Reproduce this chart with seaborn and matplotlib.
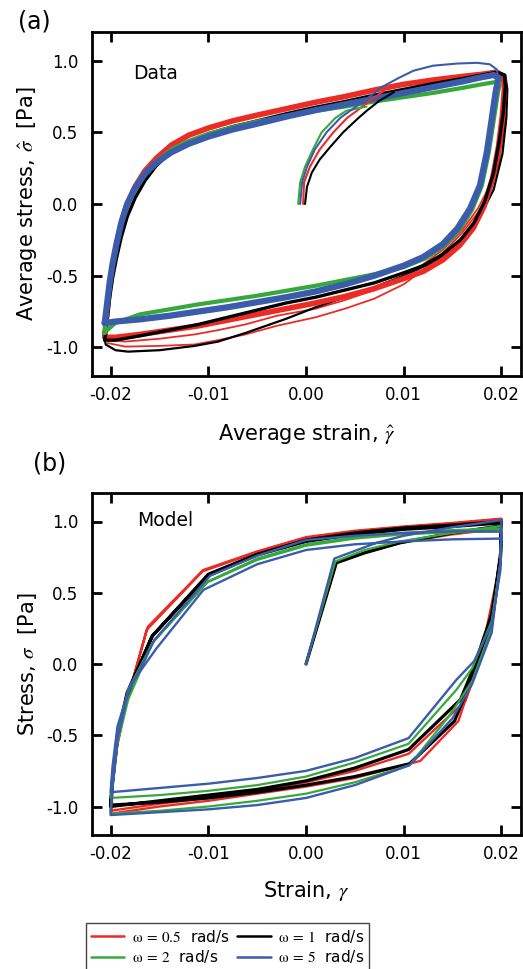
import matplotlib
matplotlib.use("Agg")
import matplotlib.pyplot as plt
import seaborn as sns
import pandas as pd
from matplotlib.lines import Line2D

# ---------------- data ----------------
FREQS = ["0.5", "1", "2", "5"]
COLORS = {"0.5": "#EC2B24", "1": "#000000", "2": "#36A93A", "5": "#3B5CAA"}

X_TICKS = [-0.02, -0.01, 0.0, 0.01, 0.02]
X_TICK_LABELS = ["-0.02", "-0.01", "0.00", "0.01", "0.02"]
Y_TICKS = [-1.0, -0.5, 0.0, 0.5, 1.0]
Y_TICK_LABELS = ["-1.0", "-0.5", "0.0", "0.5", "1.0"]

# ---- Panel (a): measured data ----
# steady loop, rising (upper) branch: shared strain grid
A_UP_X = [-0.0206, -0.0204, -0.0201, -0.0198, -0.0194, -0.0189, -0.0183, -0.0175,
          -0.0165, -0.0153, -0.0138, -0.012, -0.010, -0.0075, -0.005, -0.002,
          0.001, 0.004, 0.007, 0.010, 0.013, 0.016, 0.018]
A_UP_Y_05 = [-0.92, -0.78, -0.58, -0.44, -0.29, -0.13, 0.0, 0.12, 0.23, 0.32, 0.41, 0.48,
             0.53, 0.58, 0.62, 0.665, 0.71, 0.75, 0.795, 0.835, 0.865, 0.89, 0.905]
A_UP_Y_1 = [-0.95, -0.84, -0.66, -0.52, -0.38, -0.23, -0.09, 0.04, 0.16, 0.27, 0.36, 0.43,
            0.49, 0.54, 0.58, 0.63, 0.675, 0.715, 0.76, 0.80, 0.84, 0.875, 0.90]
A_UP_Y_2 = [-0.90, -0.76, -0.57, -0.43, -0.29, -0.14, -0.01, 0.11, 0.22, 0.30, 0.38, 0.44,
            0.49, 0.535, 0.575, 0.615, 0.65, 0.68, 0.715, 0.745, 0.775, 0.81, 0.835]
A_UP_Y_5 = [-0.83, -0.72, -0.55, -0.42, -0.28, -0.13, 0.0, 0.11, 0.21, 0.29, 0.36, 0.42,
            0.47, 0.52, 0.56, 0.61, 0.655, 0.695, 0.735, 0.775, 0.815, 0.855, 0.885]

# steady loop, falling (lower) branch incl. right corner
A_DN_X_05 = [0.0195, 0.0202, 0.0203, 0.0201, 0.0197, 0.0191, 0.0182, 0.0171, 0.0157, 0.0140,
             0.0120, 0.0100, 0.007, 0.004, 0.001, -0.002, -0.005, -0.008, -0.011, -0.014,
             -0.017, -0.0195, -0.0206]
A_DN_Y_05 = [0.92, 0.89, 0.80, 0.62, 0.40, 0.18, -0.02, -0.17, -0.29, -0.39, -0.47, -0.52,
             -0.59, -0.645, -0.69, -0.73, -0.77, -0.81, -0.85, -0.88, -0.91, -0.93, -0.93]
A_DN_X_1 = [0.0195, 0.0203, 0.0204, 0.0202, 0.0198, 0.0192, 0.0183, 0.0172, 0.0158, 0.0140,
            0.0120, 0.0100, 0.007, 0.004, 0.001, -0.002, -0.005, -0.008, -0.011, -0.014,
            -0.017, -0.0195, -0.0206]
A_DN_Y_1 = [0.92, 0.90, 0.82, 0.65, 0.45, 0.22, 0.02, -0.13, -0.25, -0.35, -0.43, -0.48,
            -0.55, -0.60, -0.65, -0.69, -0.74, -0.79, -0.84, -0.88, -0.92, -0.95, -0.95]
A_DN_X_2 = [0.0193, 0.0198, 0.0196, 0.0192, 0.0187, 0.0180, 0.0170, 0.0157, 0.0142, 0.0122,
            0.0100, 0.007, 0.004, 0.001, -0.002, -0.005, -0.008, -0.011, -0.014, -0.017,
            -0.0195, -0.0207]
A_DN_Y_2 = [0.85, 0.83, 0.76, 0.58, 0.36, 0.13, -0.04, -0.18, -0.29, -0.38, -0.44, -0.49,
            -0.53, -0.57, -0.605, -0.64, -0.67, -0.70, -0.735, -0.77, -0.83, -0.90]
A_DN_X_5 = [0.0192, 0.0197, 0.0194, 0.0190, 0.0185, 0.0178, 0.0168, 0.0155, 0.0140, 0.0120,
            0.0100, 0.007, 0.004, 0.001, -0.002, -0.005, -0.008, -0.011, -0.014, -0.017,
            -0.0195, -0.0206]
A_DN_Y_5 = [0.90, 0.88, 0.78, 0.59, 0.36, 0.13, -0.03, -0.17, -0.28, -0.37, -0.43, -0.50,
            -0.56, -0.61, -0.65, -0.685, -0.72, -0.75, -0.78, -0.805, -0.82, -0.83]

# earlier-cycle lower branches (outliers below the steady bands)
A_FIRST_X_05 = [0.0195, 0.0203, 0.0204, 0.0202, 0.0197, 0.0189, 0.0176, 0.0160, 0.0140, 0.0120,
                0.0100, 0.007, 0.004, 0.001, -0.003, -0.0062, -0.009, -0.0114, -0.015,
                -0.0185, -0.0203]
A_FIRST_Y_05 = [0.92, 0.88, 0.72, 0.50, 0.28, 0.10, -0.06, -0.20, -0.34, -0.46, -0.56, -0.66,
                -0.73, -0.79, -0.85, -0.91, -0.95, -0.98, -0.99, -0.995, -0.97]
A_SECOND_Y_05 = [0.92, 0.89, 0.76, 0.56, 0.34, 0.14, -0.03, -0.18, -0.32, -0.42, -0.50, -0.60,
                 -0.67, -0.73, -0.78, -0.84, -0.88, -0.91, -0.94, -0.96, -0.95]
A_FIRST_X_1 = [0.0195, 0.0204, 0.0206, 0.0205, 0.0201, 0.0192, 0.0177, 0.0157, 0.0132, 0.010,
               0.007, 0.004, 0.001, -0.002, -0.0062, -0.009, -0.0114, -0.015, -0.0182,
               -0.0195, -0.0205, -0.0207]
A_FIRST_Y_1 = [0.93, 0.90, 0.80, 0.60, 0.35, 0.10, -0.10, -0.27, -0.40, -0.50, -0.58, -0.65,
               -0.72, -0.80, -0.90, -0.96, -0.99, -1.02, -1.03, -1.02, -0.98, -0.90]

# start-up curves from rest
A_START_X_05 = [-0.0003, -0.0002, 0.0004, 0.0014, 0.0028, 0.0042, 0.0052, 0.0065, 0.008]
A_START_Y_05 = [0.0, 0.15, 0.26, 0.38, 0.50, 0.60, 0.65, 0.72, 0.79]
A_START_X_1 = [-0.0001, 0.0001, 0.0006, 0.0014, 0.0025, 0.0038, 0.0052, 0.0062, 0.0075, 0.009]
A_START_Y_1 = [0.0, 0.12, 0.22, 0.31, 0.40, 0.50, 0.59, 0.65, 0.72, 0.78]
A_START_X_2 = [-0.0008, -0.0006, -0.0001, 0.0007, 0.0016, 0.0030, 0.0041, 0.0062]
A_START_Y_2 = [0.0, 0.15, 0.26, 0.38, 0.50, 0.60, 0.65, 0.68]
A_START_X_5 = [-0.0006, -0.0004, 0.0001, 0.0009, 0.0021, 0.0035, 0.0045, 0.0060, 0.0076,
               0.0095, 0.011, 0.013, 0.0155, 0.0175, 0.0188, 0.0195, 0.0197]
A_START_Y_5 = [0.0, 0.15, 0.26, 0.38, 0.50, 0.60, 0.65, 0.72, 0.81, 0.88, 0.93, 0.965,
               0.98, 0.985, 0.975, 0.94, 0.88]

# ---- Panel (b): model ----
B_X_05 = [0, 0.0031, 0.006, 0.0096, 0.015, 0.020,
          0.0199, 0.0192, 0.0178, 0.0163, 0.0105, 0.005, 0.0, -0.005, -0.010, -0.015, -0.020,
          -0.0198, -0.0193, -0.0184, -0.0162, -0.0105, -0.005, 0.0, 0.005, 0.010, 0.015, 0.020,
          0.0200, 0.0195, 0.0181, 0.0156, 0.0117, 0.005, 0.0, -0.005, -0.010, -0.015, -0.0199,
          -0.0198, -0.0193, -0.0185, -0.0163, -0.0106, -0.005, 0.0, 0.005, 0.010, 0.015, 0.020]
B_Y_05 = [0, 0.71, 0.78, 0.85, 0.91, 0.95,
          0.75, 0.40, 0.02, -0.26, -0.63, -0.75, -0.83, -0.89, -0.94, -0.98, -1.03,
          -0.84, -0.55, -0.28, 0.26, 0.66, 0.79, 0.89, 0.935, 0.965, 0.99, 1.02,
          0.85, 0.59, 0.12, -0.40, -0.68, -0.80, -0.86, -0.91, -0.96, -1.00, -1.05,
          -0.86, -0.57, -0.30, 0.24, 0.65, 0.785, 0.885, 0.93, 0.96, 0.985, 1.015]
B_X_1 = [0, 0.0031, 0.006, 0.0096, 0.015, 0.020,
         0.0199, 0.0190, 0.0172, 0.0158, 0.0105, 0.005, 0.0, -0.005, -0.010, -0.015, -0.020,
         -0.0198, -0.0193, -0.0183, -0.0158, -0.0100, -0.005, 0.0, 0.005, 0.010, 0.015, 0.020,
         0.0199, 0.0190, 0.0170, 0.0152, 0.0106, 0.005, 0.0, -0.005, -0.010, -0.015, -0.020,
         -0.0198, -0.0193, -0.0183, -0.0157, -0.0100, -0.005, 0.0, 0.005, 0.010, 0.015, 0.020]
B_Y_1 = [0, 0.71, 0.78, 0.85, 0.92, 0.97,
         0.75, 0.35, -0.02, -0.25, -0.60, -0.73, -0.82, -0.88, -0.92, -0.96, -1.00,
         -0.82, -0.52, -0.22, 0.19, 0.63, 0.77, 0.87, 0.92, 0.955, 0.975, 1.00,
         0.75, 0.30, -0.10, -0.40, -0.70, -0.79, -0.85, -0.90, -0.94, -0.97, -0.99,
         -0.81, -0.50, -0.20, 0.20, 0.62, 0.765, 0.86, 0.91, 0.945, 0.965, 0.99]
B_X_2 = [0, 0.0030, 0.006, 0.0096, 0.015, 0.020,
         0.0199, 0.0190, 0.0170, 0.0147, 0.0106, 0.005, 0.0, -0.005, -0.010, -0.015, -0.020,
         -0.0198, -0.0193, -0.0182, -0.0157, -0.0100, -0.005, 0.0, 0.005, 0.010, 0.015, 0.020,
         0.0199, 0.0190, 0.0170, 0.0154, 0.0105, 0.005, 0.0, -0.005, -0.010, -0.015, -0.020,
         -0.0198, -0.0193, -0.0182, -0.0156, -0.0102, -0.005, 0.0, 0.005, 0.010, 0.015, 0.020]
B_Y_2 = [0, 0.72, 0.80, 0.86, 0.92, 0.97,
         0.72, 0.25, -0.12, -0.36, -0.71, -0.83, -0.91, -0.96, -1.00, -1.03, -1.05,
         -0.86, -0.56, -0.25, 0.15, 0.58, 0.74, 0.84, 0.89, 0.92, 0.94, 0.95,
         0.70, 0.30, -0.03, -0.18, -0.56, -0.69, -0.79, -0.85, -0.89, -0.92, -0.94,
         -0.76, -0.48, -0.18, 0.16, 0.57, 0.73, 0.83, 0.88, 0.91, 0.925, 0.93]
B_X_5 = [0, 0.0029, 0.0072, 0.010, 0.015, 0.020,
         0.0199, 0.0190, 0.0170, 0.0150, 0.0106, 0.005, 0.0, -0.005, -0.010, -0.015, -0.020,
         -0.0198, -0.0193, -0.0182, -0.0155, -0.0098, -0.005, 0.0, 0.005, 0.010, 0.015, 0.020,
         0.0199, 0.0190, 0.0172, 0.0154, 0.0105, 0.005, 0.0, -0.005, -0.010, -0.015, -0.020,
         -0.0198, -0.0193, -0.0180, -0.0153, -0.0105, -0.005, 0.0, 0.005, 0.010, 0.015, 0.020]
B_Y_5 = [0, 0.74, 0.85, 0.90, 0.96, 1.01,
         0.72, 0.22, -0.14, -0.38, -0.71, -0.85, -0.94, -0.99, -1.02, -1.04, -1.06,
         -0.87, -0.53, -0.20, 0.17, 0.62, 0.76, 0.87, 0.90, 0.92, 0.93, 0.93,
         0.66, 0.28, 0.02, -0.11, -0.52, -0.66, -0.75, -0.80, -0.84, -0.87, -0.90,
         -0.72, -0.44, -0.15, 0.11, 0.52, 0.70, 0.80, 0.84, 0.86, 0.875, 0.88]

LEGEND_LABELS = {"0.5": r"$\mathrm{\omega\:=\:0.5}$  rad/s",
                 "1": r"$\mathrm{\omega\:=\:1}$  rad/s",
                 "2": r"$\mathrm{\omega\:=\:2}$  rad/s",
                 "5": r"$\mathrm{\omega\:=\:5}$  rad/s"}

# ---------------- style ----------------
sns.set_theme(style="ticks")
plt.rcParams["font.family"] = ["DejaVu Sans"]
plt.rcParams["mathtext.fontset"] = "stix"
plt.rcParams["axes.unicode_minus"] = False
plt.rcParams["text.color"] = "black"
plt.rcParams["axes.labelcolor"] = "black"
plt.rcParams["xtick.color"] = "black"
plt.rcParams["ytick.color"] = "black"

W, H = 523, 969
fig = plt.figure(figsize=(W / 100, H / 100), dpi=100)
axA = fig.add_axes([92 / W, 1 - 376 / H, 429 / W, 344 / H])
axB = fig.add_axes([92 / W, 1 - 835 / H, 429 / W, 342 / H])


def draw(ax, xs, ys, color, lw):
    df = pd.DataFrame({"strain": xs, "stress": ys})
    sns.lineplot(data=df, x="strain", y="stress", sort=False, estimator=None,
                 color=color, lw=lw, ax=ax, solid_joinstyle="round",
                 solid_capstyle="round")


# panel (a)
up_a = {"0.5": A_UP_Y_05, "1": A_UP_Y_1, "2": A_UP_Y_2, "5": A_UP_Y_5}
dn_a = {"0.5": (A_DN_X_05, A_DN_Y_05), "1": (A_DN_X_1, A_DN_Y_1),
        "2": (A_DN_X_2, A_DN_Y_2), "5": (A_DN_X_5, A_DN_Y_5)}
start_a = {"0.5": (A_START_X_05, A_START_Y_05), "1": (A_START_X_1, A_START_Y_1),
           "2": (A_START_X_2, A_START_Y_2), "5": (A_START_X_5, A_START_Y_5)}
band_lw = {"0.5": 4.0, "1": 2.4, "2": 3.0, "5": 4.5}

draw(axA, A_FIRST_X_05, A_FIRST_Y_05, COLORS["0.5"], 1.3)
draw(axA, A_FIRST_X_05, A_SECOND_Y_05, COLORS["0.5"], 1.3)
draw(axA, A_FIRST_X_1, A_FIRST_Y_1, COLORS["1"], 1.6)
for f in FREQS:
    xs = A_UP_X + dn_a[f][0]
    ys = up_a[f] + dn_a[f][1]
    draw(axA, xs, ys, COLORS[f], band_lw[f])
for f in FREQS:
    draw(axA, start_a[f][0], start_a[f][1], COLORS[f], 1.5)

# panel (b)
paths_b = {"0.5": (B_X_05, B_Y_05), "1": (B_X_1, B_Y_1),
           "2": (B_X_2, B_Y_2), "5": (B_X_5, B_Y_5)}
lw_b = {"0.5": 1.7, "1": 2.3, "2": 1.6, "5": 1.7}
for f in FREQS:
    draw(axB, paths_b[f][0], paths_b[f][1], COLORS[f], lw_b[f])


def style(ax, xlabel, ylabel, xpad):
    ax.set_xlim(-0.0219, 0.0220)
    ax.set_ylim(-1.2, 1.2)
    ax.set_xticks(X_TICKS)
    ax.set_xticklabels(X_TICK_LABELS)
    ax.set_yticks(Y_TICKS)
    ax.set_yticklabels(Y_TICK_LABELS)
    ax.tick_params(axis="both", direction="in", length=7, width=2, top=True,
                   right=True, labelsize=12, color="black", labelcolor="black")
    ax.tick_params(axis="x", pad=7)
    ax.tick_params(axis="y", pad=10)
    for s in ax.spines.values():
        s.set_linewidth(2)
        s.set_color("black")
    ax.set_xlabel(xlabel, fontsize=15, labelpad=xpad, color="black")
    ax.set_ylabel(ylabel, fontsize=15, labelpad=5, color="black")


style(axA, r"Average strain, $\hat{\gamma}$", r"Average stress, $\hat{\sigma}$  [Pa]", 13)
style(axB, r"Strain, $\gamma$", r"Stress, $\sigma$  [Pa]", 12)

fig.text(18 / W, 1 - 22 / H, "(a)", fontsize=17, va="center", ha="left", color="black")
fig.text(33 / W, 1 - 463 / H, "(b)", fontsize=17, va="center", ha="left", color="black")
fig.text(133 / W, 1 - 73.5 / H, "Data", fontsize=13.5, va="center", ha="left", color="black")
fig.text(137 / W, 1 - 521 / H, "Model", fontsize=13.5, va="center", ha="left", color="black")

order = ["0.5", "2", "1", "5"]
handles = [Line2D([0], [0], color=COLORS[f], lw=1.8) for f in order]
labels = [LEGEND_LABELS[f] for f in order]
leg = fig.legend(handles, labels, ncol=2, loc="upper left",
                 bbox_to_anchor=(86 / W, 1 - 923 / H), frameon=True, fancybox=False,
                 edgecolor="#444444", fontsize=11, handlelength=2.2, handletextpad=0.5,
                 columnspacing=0.5, borderpad=0.3, labelspacing=0.25, framealpha=1,
                 borderaxespad=0)
leg.get_frame().set_linewidth(1.0)

fig.savefig("out.png", dpi=100)
